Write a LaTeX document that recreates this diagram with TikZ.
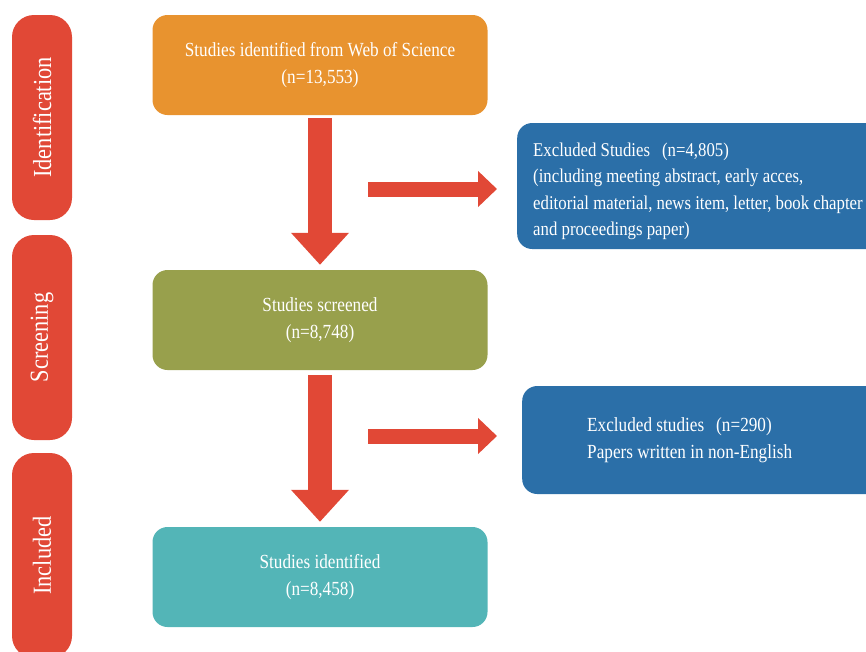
\documentclass[tikz,border=0pt]{standalone}
\usepackage{fontspec}
\setmainfont{Liberation Serif}[FakeStretch=0.86]
\usepackage{xcolor}
\usetikzlibrary{arrows.meta}
\definecolor{stagered}{HTML}{E14836}
\definecolor{idorange}{HTML}{E8932F}
\definecolor{scrgreen}{HTML}{98A04C}
\definecolor{incteal}{HTML}{53B5B7}
\definecolor{exclblue}{HTML}{2B6FA8}

\begin{document}
\begin{tikzpicture}[x=1pt,y=-1pt]
\tikzstyle{stage} = [fill=stagered, rounded corners=22pt, rotate=90, minimum width=205pt, minimum height=60pt, text=white, font=\fontsize{26pt}{30pt}\selectfont]
\tikzstyle{flowbox} = [rounded corners=15pt, minimum width=335pt, minimum height=100pt, align=center, text=white, font=\fontsize{20pt}{26.5pt}\selectfont]
\tikzstyle{exclbox} = [fill=exclblue, rounded corners=15pt, anchor=west, align=flush left, text=white, font=\fontsize{20pt}{26.5pt}\selectfont]
\tikzstyle{downarrow} = [draw=stagered, line width=24pt, -{Triangle[length=32pt,width=56pt]}]
\tikzstyle{sidearrow} = [draw=stagered, line width=15pt, -{Triangle[length=19pt,width=35pt]}]
%
\clip (0,0) rectangle (866,651);

	\node[stage] (idlabel) at (42,117.5) {Identification};
	\node[stage] (scrlabel) at (42,337.5) {Screening};
	\node[stage] (inclabel) at (42,555.5) {Included};

	\node[flowbox, fill=idorange] (ident) at (320,65) {Studies identified from Web of Science\\(n=13,553)};
	\node[flowbox, fill=scrgreen] (screen) at (320,320) {Studies screened\\(n=8,748)};
	\node[flowbox, fill=incteal] (incl) at (320,577) {Studies identified\\(n=8,458)};

	\node[exclbox, text width=350pt, inner xsep=16pt, minimum height=126pt, font=\fontsize{19.5pt}{26.5pt}\selectfont] (excl1) at (517,186) {\rule{0pt}{24pt}Excluded Studies\hspace{12pt}(n=4,805)\\(including meeting abstract, early acces,\\editorial material, news item, letter, book chapter\\and proceedings paper)};
	\node[exclbox, text width=240pt, inner xsep=65pt, minimum height=108pt] (excl2) at (522,440) {Excluded studies\hspace{12pt}(n=290)\\Papers written in non-English};

	\coordinate (side1) at (368,189);
	\coordinate (side2) at (368,436);

	\draw[downarrow, shorten <=3pt, shorten >=5pt] (ident) -- (screen);
	\draw[downarrow, shorten <=5pt, shorten >=5pt] (screen) -- (incl);
	\draw[sidearrow, shorten >=20pt] (side1) -- (side1 -| excl1.west);
	\draw[sidearrow, shorten >=25pt] (side2) -- (side2 -| excl2.west);
\end{tikzpicture}
\end{document}
